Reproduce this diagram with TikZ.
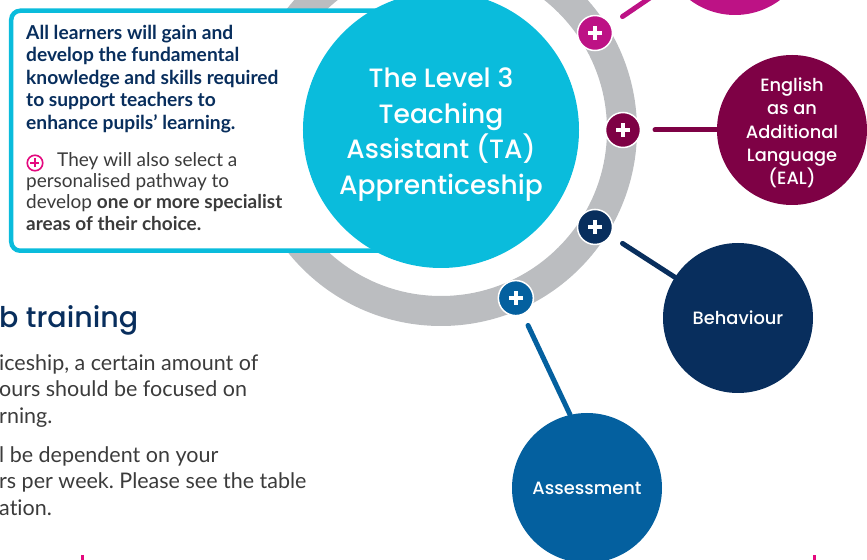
\documentclass[tikz,border=0pt]{standalone}
\usepackage{fontspec}
\setmainfont{Lato}[Ligatures=NoCommon]
\newfontfamily\roundfont{Poppins Medium}
\frenchspacing
\usetikzlibrary{positioning}
\definecolor{navy}{HTML}{082E5D}
\definecolor{blue}{HTML}{04609F}
\definecolor{cyan}{HTML}{0ABCDC}
\definecolor{magenta}{HTML}{BD1285}
\definecolor{plum}{HTML}{7E0145}
\definecolor{pink}{HTML}{E4097E}
\definecolor{ring}{HTML}{BBBDC0}
\definecolor{ink}{HTML}{3B3B3B}
\tikzset{
  hub/.style={circle,fill=cyan,minimum size=276bp,inner sep=0pt},
  hubtitle/.style={inner sep=0pt,text=white,align=center,font=\roundfont\fontsize{26.5bp}{35.6bp}\selectfont},
  area/.style={circle,minimum size=150bp,inner sep=0pt,text=white,align=center,font=\roundfont\fontsize{17.8bp}{23.2bp}\selectfont},
  areatitle/.style={inner sep=0pt,text=white,align=center,font=\roundfont\fontsize{17.8bp}{23.2bp}\selectfont},
  badge/.style={circle,minimum size=35bp,inner sep=0pt,draw=white,line width=1.5bp,
    path picture={\draw[white,line width=3.5bp] ([xshift=-7bp]path picture bounding box.center) -- ([xshift=7bp]path picture bounding box.center)
      ([yshift=-7bp]path picture bounding box.center) -- ([yshift=7bp]path picture bounding box.center);}},
  pinkplus/.style={circle,minimum size=15.5bp,inner sep=0pt,draw=pink,line width=1.6bp,
    path picture={\draw[pink,line width=1.6bp] ([xshift=-4.5bp]path picture bounding box.center) -- ([xshift=4.5bp]path picture bounding box.center)
      ([yshift=-4.5bp]path picture bounding box.center) -- ([yshift=4.5bp]path picture bounding box.center);}},
  panel/.style={draw=cyan,line width=4.5bp,fill=white,rounded corners=9bp,inner sep=0pt},
  aimtext/.style={inner sep=0pt,align=left,text=navy,font=\bfseries\fontsize{19.2bp}{22.5bp}\selectfont},
  choicetext/.style={inner sep=0pt,align=left,text=ink,font=\fontsize{19bp}{21.3bp}\selectfont},
  bodytext/.style={inner sep=0pt,align=left,text=ink,font=\fontsize{21.5bp}{26.5bp}\selectfont},
  heading/.style={inner sep=0pt,text=navy,font=\roundfont\fontsize{28.5bp}{30bp}\selectfont},
  link/.style={line width=5bp,line cap=round},
  ringband/.style={draw=ring,line width=30bp},
  cutmark/.style={draw=pink,line width=3bp}
}
\begin{document}
\begin{tikzpicture}[x=1bp,y=1bp]
\useasboundingbox (-441,130) rectangle (426,-430);
\coordinate (centre) at (0,0);
\draw[ringband] (centre) circle[radius=181];

\node[panel,anchor=north west,minimum width=412bp,minimum height=240bp] (panel) at (-432,121.5) {};
\node[aimtext,anchor=north west] (aim) at (-415,105) {All learners will gain and\\develop the fundamental\\knowledge and skills required\\to support teachers to\\enhance pupils’ learning.};
\node[choicetext,anchor=north west] (choice) at (-415,-22) {\hspace*{31bp}They will also select a\\personalised pathway to\\develop \textbf{one or more specialist}\\\textbf{areas of their choice.}};
\node[pinkplus] (choiceicon) at (-406,-33) {};

\node[hub] (hub) at (centre) {};
\node[hubtitle] (hubtitle) at ([yshift=-4.5bp]hub.center) {The Level 3\\Teaching\\Assistant (TA)\\Apprenticeship};

\node[area,fill=magenta] (upper) at (294,190) {};
\node[area,fill=plum] (eal) at (351,0) {};
\node[areatitle] (ealtitle) at ([yshift=-3bp]eal.center) {English\\as an\\Additional\\Language\\(EAL)};
\node[area,fill=navy] (behaviour) at (297,-188) {Behaviour};
\node[area,fill=blue] (assessment) at (146,-358) {Assessment};

\node[badge,fill=magenta] (badgeUpper) at (32.2:182) {};
\node[badge,fill=plum] (badgeEal) at (0:182) {};
\node[badge,fill=navy] (badgeBehaviour) at (-32.2:182) {};
\node[badge,fill=blue] (badgeAssessment) at (-66:184) {};

\coordinate (linkUpper) at (32:214);
\coordinate (linkEal) at (0:214);
\coordinate (linkBehaviour) at (-32:214);
\coordinate (linkAssessment) at (-66:214);
\draw[link,magenta] (linkUpper) -- (upper);
\draw[link,plum] (linkEal) -- (eal);
\draw[link,navy] (linkBehaviour) -- (behaviour);
\draw[link,blue] (linkAssessment) -- (assessment.103);

\node[heading,anchor=base west] (training) at (-442,-198) {b training};
\node[bodytext,anchor=north west] (hours) at (-442,-224) {iceship, a certain amount of\\ours should be focused on\\rning.};
\node[bodytext,anchor=north west] (weekly) at (-442,-316) {l be dependent on your\\rs per week. Please see the table\\ation.};

\coordinate (markLeft) at (-358,-425);
\coordinate (markRight) at (373,-425);
\draw[cutmark] (markLeft) -- ++(0,-8);
\draw[cutmark] (markRight) -- ++(0,-8);
\end{tikzpicture}
\end{document}
